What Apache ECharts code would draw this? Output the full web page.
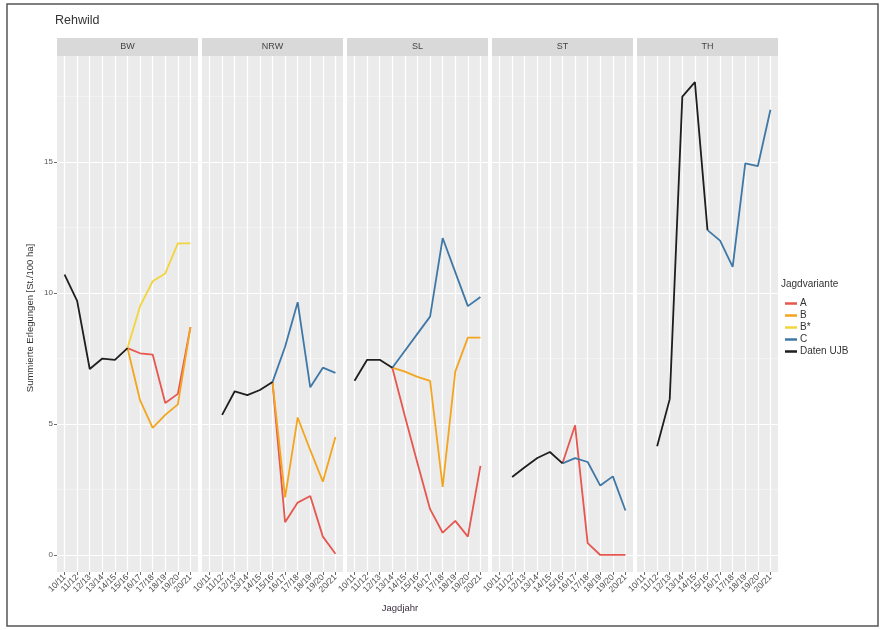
<!DOCTYPE html>
<html>
<head>
<meta charset="utf-8">
<script src="https://cdn.jsdelivr.net/npm/echarts@6/dist/echarts.min.js"></script>
<style>
html,body{margin:0;padding:0;background:#fff;}
#chart{width:881px;height:630px;}
</style>
</head>
<body>
<div id="chart"></div>
<script>
// ---------- data ----------
const categories = ['10/11','11/12','12/13','13/14','14/15','15/16','16/17','17/18','18/19','19/20','20/21'];
const panels = ['BW','NRW','SL','ST','TH'];
const variants = ['A','B','B*','C','Daten UJB'];
const yTicks = [0, 5, 10, 15];
const yMinorTicks = [2.5, 7.5, 12.5, 17.5];
const _ = null;

// Variante A
const A_BW  = [_,_,_,_,_, 7.9, 7.7, 7.65, 5.8, 6.15, 8.7];
const A_NRW = [_,_,_,_,_, 6.6, 1.25, 2.0, 2.25, 0.7, 0.05];
const A_SL  = [_,_,_, 7.15, 5.3, 3.5, 1.75, 0.85, 1.3, 0.7, 3.4];
const A_ST  = [_,_,_,_,_, 3.5, 4.95, 0.45, 0.0, 0.0, 0.0];
const A_TH  = [_,_,_,_,_,_,_,_,_,_,_];
// Variante B
const B_BW  = [_,_,_,_,_, 7.9, 5.9, 4.85, 5.35, 5.75, 8.7];
const B_NRW = [_,_,_,_,_, 6.6, 2.2, 5.25, 4.0, 2.8, 4.5];
const B_SL  = [_,_,_, 7.15, 7.0, 6.8, 6.65, 2.6, 7.0, 8.3, 8.3];
const B_ST  = [_,_,_,_,_,_,_,_,_,_,_];
const B_TH  = [_,_,_,_,_,_,_,_,_,_,_];
// Variante B*
const Bs_BW  = [_,_,_,_,_, 7.9, 9.5, 10.45, 10.75, 11.9, 11.9];
const Bs_NRW = [_,_,_,_,_,_,_,_,_,_,_];
const Bs_SL  = [_,_,_,_,_,_,_,_,_,_,_];
const Bs_ST  = [_,_,_,_,_,_,_,_,_,_,_];
const Bs_TH  = [_,_,_,_,_,_,_,_,_,_,_];
// Variante C
const C_BW  = [_,_,_,_,_,_,_,_,_,_,_];
const C_NRW = [_,_,_,_,_, 6.6, 7.95, 9.65, 6.4, 7.15, 6.95];
const C_SL  = [_,_,_, 7.15, 7.8, 8.45, 9.1, 12.1, 10.8, 9.5, 9.85];
const C_ST  = [_,_,_,_,_, 3.5, 3.7, 3.55, 2.65, 3.0, 1.7];
const C_TH  = [_,_,_,_,_, 12.4, 12.0, 11.0, 14.95, 14.85, 17.0];
// Daten UJB
const U_BW  = [10.7, 9.7, 7.1, 7.5, 7.45, 7.9, _,_,_,_,_];
const U_NRW = [_, 5.35, 6.25, 6.1, 6.3, 6.6, _,_,_,_,_];
const U_SL  = [6.65, 7.45, 7.45, 7.15, _,_,_,_,_,_,_];
const U_ST  = [_, 2.98, 3.35, 3.7, 3.93, 3.5, _,_,_,_,_];
const U_TH  = [_, 4.15, 5.95, 17.5, 18.05, 12.4, _,_,_,_,_];

const dataByVariant = {
  'A': [A_BW, A_NRW, A_SL, A_ST, A_TH],
  'B': [B_BW, B_NRW, B_SL, B_ST, B_TH],
  'B*': [Bs_BW, Bs_NRW, Bs_SL, Bs_ST, Bs_TH],
  'C': [C_BW, C_NRW, C_SL, C_ST, C_TH],
  'Daten UJB': [U_BW, U_NRW, U_SL, U_ST, U_TH]
};
const colors = {'A':'#e5574f','B':'#f3a51f','B*':'#f2d43c','C':'#3f78a6','Daten UJB':'#1e1e1e'};

// ---------- layout ----------
const FONT = '"Liberation Sans", Arial, sans-serif';
const panelLeft0 = 57, panelStep = 145, panelW = 141, panelTop = 56, panelH = 516;
const stripH = 18;
const yMin = -0.65, yMax = 19.05;

const grids = [], xAxes = [], yAxes = [], series = [], graphics = [];
panels.forEach((p, i) => {
  const left = panelLeft0 + i * panelStep;
  grids.push({left: left, top: panelTop, width: panelW, height: panelH,
    show: true, backgroundColor: '#ebebeb', borderWidth: 0, containLabel: false});
  xAxes.push({
    type: 'value', gridIndex: i, min: -0.6, max: categories.length - 0.4, position: 'bottom',
    axisLine: {show: false, onZero: false},
    axisTick: {show: true, length: 3, lineStyle: {color: '#444', width: 0.8},
      customValues: categories.map((c, k) => k)},
    axisLabel: {show: true, rotate: 45, fontSize: 8.5, color: '#4a4a4a', fontFamily: FONT, margin: 4,
      customValues: categories.map((c, k) => k),
      formatter: v => categories[Math.round(v)]},
    splitLine: {show: true, lineStyle: {color: '#ffffff', width: 1.2}}
  });
  yAxes.push({
    type: 'value', gridIndex: i, min: yMin, max: yMax, position: 'left',
    axisLine: {show: false, onZero: false},
    axisTick: {show: i === 0, length: 3, lineStyle: {color: '#444', width: 0.8}, customValues: yTicks},
    axisLabel: {show: i === 0, fontSize: 8, color: '#555', fontFamily: FONT, margin: 4, customValues: yTicks},
    splitLine: {show: true, lineStyle: {color: '#ffffff', width: 1.2}}
  });
  yAxes.push({
    type: 'value', gridIndex: i, min: yMin, max: yMax, position: 'left',
    axisLine: {show: false, onZero: false},
    axisTick: {show: false, customValues: yMinorTicks},
    axisLabel: {show: false, customValues: yMinorTicks},
    splitLine: {show: true, lineStyle: {color: '#f7f7f7', width: 0.6}}
  });
  graphics.push({type: 'rect', left: left, top: panelTop - stripH,
    shape: {width: panelW, height: stripH}, style: {fill: '#d9d9d9'}, silent: true});
  graphics.push({type: 'text', x: left + panelW / 2, y: panelTop - stripH / 2,
    style: {text: p, fill: '#444', fontSize: 9, fontFamily: FONT, align: 'center', verticalAlign: 'middle'}});
  variants.forEach((v, vi) => {
    const arr = dataByVariant[v][i];
    if (arr.every(d => d === null)) return;
    series.push({
      name: v, type: 'line', xAxisIndex: i, yAxisIndex: 2 * i,
      data: arr.map((d, k) => [k, d]),
      showSymbol: false, symbol: 'none', connectNulls: false,
      color: colors[v],
      lineStyle: {color: colors[v], width: 1.8},
      z: 2 + vi, silent: true, animation: false
    });
  });
});

// frame, titles
graphics.push({type: 'rect', shape: {x: 7, y: 4, width: 871, height: 622},
  style: {fill: 'none', stroke: '#555', lineWidth: 1.5}, silent: true, z: 100});
graphics.push({type: 'text', x: 55, y: 14,
  style: {text: 'Rehwild', fill: '#333', fontSize: 12.5, fontFamily: FONT}});
graphics.push({type: 'text', x: 400, y: 603,
  style: {text: 'Jagdjahr', fill: '#3a3040', fontSize: 9.5, fontFamily: FONT, align: 'center'}});
graphics.push({type: 'text', x: 30, y: 318, rotation: Math.PI / 2,
  style: {text: 'Summierte Erlegungen [St./100 ha]', fill: '#333', fontSize: 9.5, fontFamily: FONT,
    align: 'center', verticalAlign: 'middle'}});
graphics.push({type: 'text', x: 781, y: 279,
  style: {text: 'Jagdvariante', fill: '#333', fontSize: 10, fontFamily: FONT}});

const chart = echarts.init(document.getElementById('chart'), null, {renderer: 'canvas'});
chart.setOption({
  animation: false,
  backgroundColor: '#ffffff',
  grid: grids, xAxis: xAxes, yAxis: yAxes, series: series,
  legend: {
    data: variants, orient: 'vertical', left: 780, top: 293,
    icon: 'rect', itemWidth: 12, itemHeight: 2.5, itemGap: 1,
    textStyle: {fontSize: 10, color: '#333', fontFamily: FONT, lineHeight: 11, padding: [0,0,0,-2]},
    selectedMode: false
  },
  graphic: graphics
});
</script>
</body>
</html>
